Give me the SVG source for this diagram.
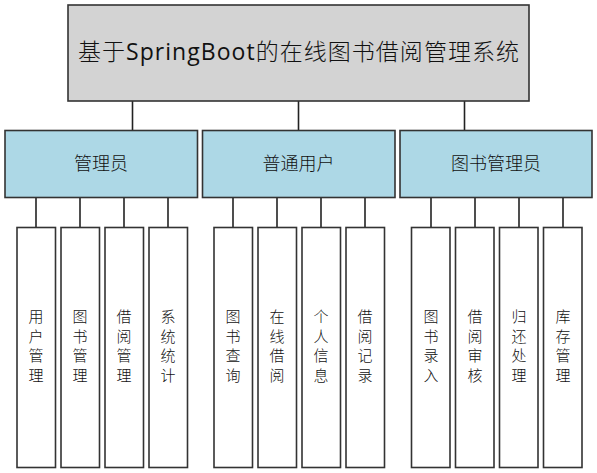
<svg xmlns="http://www.w3.org/2000/svg" width="597" height="473" viewBox="0 0 597 473">
<style>
.box{stroke:#333;stroke-width:1.6}
.root{fill:#d3d3d3}
.mid{fill:#add8e6}
.leaf{fill:#fff}
.t{font-family:"Noto Sans CJK SC","Microsoft YaHei",sans-serif;font-weight:300;fill:#111;text-anchor:middle}
.lt{font-family:"Open Sans","Noto Sans",sans-serif;font-weight:400}
.lf{font-size:15px}
.conn line{stroke:#222;stroke-width:1.6}
</style>
<rect width="597" height="473" fill="#fff"/>
<g class="conn" id="connectors">
<line x1="132.5" y1="101" x2="132.5" y2="130.5"/>
<line x1="298.5" y1="101" x2="298.5" y2="130.5"/>
<line x1="464.5" y1="101" x2="464.5" y2="130.5"/>
<line x1="36" y1="197.5" x2="36" y2="227.5"/>
<line x1="80" y1="197.5" x2="80" y2="227.5"/>
<line x1="124" y1="197.5" x2="124" y2="227.5"/>
<line x1="168" y1="197.5" x2="168" y2="227.5"/>
<line x1="233" y1="197.5" x2="233" y2="227.5"/>
<line x1="277" y1="197.5" x2="277" y2="227.5"/>
<line x1="321" y1="197.5" x2="321" y2="227.5"/>
<line x1="365" y1="197.5" x2="365" y2="227.5"/>
<line x1="431" y1="197.5" x2="431" y2="227.5"/>
<line x1="475" y1="197.5" x2="475" y2="227.5"/>
<line x1="519" y1="197.5" x2="519" y2="227.5"/>
<line x1="563" y1="197.5" x2="563" y2="227.5"/>
</g>
<g id="root">
<rect class="box root" x="68" y="5" width="461" height="96"/>
<text class="t" x="298.5" y="60" font-size="23" textLength="441" lengthAdjust="spacing">基于<tspan class="lt">SpringBoot</tspan>的在线图书借阅管理系统</text>
</g>
<g id="admin">
<rect class="box mid" x="5" y="130.5" width="192.5" height="67"/>
<text class="t" x="101" y="170" font-size="18">管理员</text>
</g>
<g id="user">
<rect class="box mid" x="202.5" y="130.5" width="192.5" height="67"/>
<text class="t" x="298.5" y="170" font-size="18">普通用户</text>
</g>
<g id="librarian">
<rect class="box mid" x="400" y="130.5" width="192" height="67"/>
<text class="t" x="496" y="170" font-size="18">图书管理员</text>
</g>
<g id="leaf1"><rect class="box leaf" x="17" y="227.5" width="38.5" height="240"/>
<text class="t lf"><tspan x="36" y="322">用</tspan><tspan x="36" y="341.7">户</tspan><tspan x="36" y="361.4">管</tspan><tspan x="36" y="381">理</tspan></text></g>
<g id="leaf2"><rect class="box leaf" x="61" y="227.5" width="38.5" height="240"/>
<text class="t lf"><tspan x="80" y="322">图</tspan><tspan x="80" y="341.7">书</tspan><tspan x="80" y="361.4">管</tspan><tspan x="80" y="381">理</tspan></text></g>
<g id="leaf3"><rect class="box leaf" x="105" y="227.5" width="38.5" height="240"/>
<text class="t lf"><tspan x="124" y="322">借</tspan><tspan x="124" y="341.7">阅</tspan><tspan x="124" y="361.4">管</tspan><tspan x="124" y="381">理</tspan></text></g>
<g id="leaf4"><rect class="box leaf" x="149" y="227.5" width="38.5" height="240"/>
<text class="t lf"><tspan x="168" y="322">系</tspan><tspan x="168" y="341.7">统</tspan><tspan x="168" y="361.4">统</tspan><tspan x="168" y="381">计</tspan></text></g>
<g id="leaf5"><rect class="box leaf" x="214" y="227.5" width="38.5" height="240"/>
<text class="t lf"><tspan x="233" y="322">图</tspan><tspan x="233" y="341.7">书</tspan><tspan x="233" y="361.4">查</tspan><tspan x="233" y="381">询</tspan></text></g>
<g id="leaf6"><rect class="box leaf" x="258" y="227.5" width="38.5" height="240"/>
<text class="t lf"><tspan x="277" y="322">在</tspan><tspan x="277" y="341.7">线</tspan><tspan x="277" y="361.4">借</tspan><tspan x="277" y="381">阅</tspan></text></g>
<g id="leaf7"><rect class="box leaf" x="302" y="227.5" width="38.5" height="240"/>
<text class="t lf"><tspan x="321" y="322">个</tspan><tspan x="321" y="341.7">人</tspan><tspan x="321" y="361.4">信</tspan><tspan x="321" y="381">息</tspan></text></g>
<g id="leaf8"><rect class="box leaf" x="346" y="227.5" width="38.5" height="240"/>
<text class="t lf"><tspan x="365" y="322">借</tspan><tspan x="365" y="341.7">阅</tspan><tspan x="365" y="361.4">记</tspan><tspan x="365" y="381">录</tspan></text></g>
<g id="leaf9"><rect class="box leaf" x="411.5" y="227.5" width="38.5" height="240"/>
<text class="t lf"><tspan x="431" y="322">图</tspan><tspan x="431" y="341.7">书</tspan><tspan x="431" y="361.4">录</tspan><tspan x="431" y="381">入</tspan></text></g>
<g id="leaf10"><rect class="box leaf" x="455.5" y="227.5" width="38.5" height="240"/>
<text class="t lf"><tspan x="475" y="322">借</tspan><tspan x="475" y="341.7">阅</tspan><tspan x="475" y="361.4">审</tspan><tspan x="475" y="381">核</tspan></text></g>
<g id="leaf11"><rect class="box leaf" x="499.5" y="227.5" width="38.5" height="240"/>
<text class="t lf"><tspan x="519" y="322">归</tspan><tspan x="519" y="341.7">还</tspan><tspan x="519" y="361.4">处</tspan><tspan x="519" y="381">理</tspan></text></g>
<g id="leaf12"><rect class="box leaf" x="543.5" y="227.5" width="38.5" height="240"/>
<text class="t lf"><tspan x="563" y="322">库</tspan><tspan x="563" y="341.7">存</tspan><tspan x="563" y="361.4">管</tspan><tspan x="563" y="381">理</tspan></text></g>
</svg>
